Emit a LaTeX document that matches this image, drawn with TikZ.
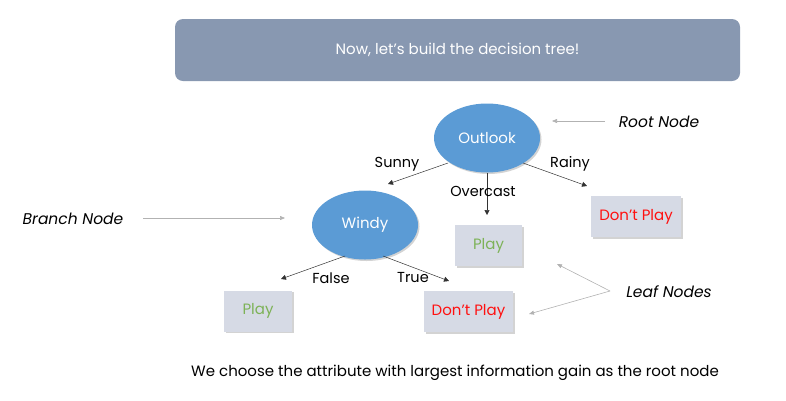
\documentclass[tikz,border=0pt]{standalone}
\usepackage{fontspec}
\setmainfont{Poppins}
\usetikzlibrary{shapes.geometric,shadows,arrows.meta}
\definecolor{banner}{HTML}{8898B1}
\definecolor{ell}{HTML}{5B9BD5}
\definecolor{boxfill}{HTML}{D6DAE5}
\definecolor{playgreen}{HTML}{7DB257}
\definecolor{dpred}{HTML}{FF1010}
\tikzset{
  ellnode/.style={ellipse, fill=ell, text=white, minimum width=106pt, minimum height=69pt, inner sep=0pt, font=\fontsize{15}{17}\selectfont,
    drop shadow={opacity=0.35, shadow xshift=1.5pt, shadow yshift=-1.5pt}},
  leaf/.style={rectangle, fill=boxfill, minimum height=41pt, inner sep=0pt, font=\fontsize{15}{17}\selectfont,
    drop shadow={opacity=0.35, shadow xshift=1.5pt, shadow yshift=-1.5pt}},
  edge/.style={draw=black!80, line width=0.5pt, -{Triangle[length=5pt,width=5pt]}},
  note/.style={draw=black!30, line width=0.6pt, -{Triangle[length=5pt,width=4pt]}},
  elabel/.style={font=\fontsize{14.5}{16}\selectfont, text=black},
  notelabel/.style={font=\fontsize{15.5}{17}\selectfont\itshape, text=black},
}
\begin{document}
\begin{tikzpicture}[x=1pt,y=-1pt]
\useasboundingbox (0,0) rectangle (786,400);
\node[fill=banner, rounded corners=8pt, minimum width=565pt, minimum height=62pt, text=white, font=\fontsize{15}{17}\selectfont] (banner) at (457.5,50) {Now, let's build the decision tree!};

\node[ellnode] (outlook) at (487,138) {Outlook};
\node[ellnode] (windy) at (365,225) {Windy};
\node[leaf, minimum width=67pt, text=playgreen] (play1) at (488.5,245.5) {Play};
\node[leaf, minimum width=90pt, text=dpred] (dp1) at (636,216.5) {Don't Play};
\node[leaf, minimum width=68pt, text=playgreen] (play2) at (258,311) {Play};
\node[leaf, minimum width=89pt, text=dpred] (dp2) at (468.5,311.5) {Don't Play};

\coordinate (s1) at (448,163); \coordinate (s2) at (388,184);
\coordinate (o1) at (487,173); \coordinate (o2) at (487,215);
\coordinate (r1) at (523,163); \coordinate (r2) at (587,186);
\coordinate (f1) at (345,256); \coordinate (f2) at (281,279);
\coordinate (t1) at (383,256); \coordinate (t2) at (449,281);
\draw[edge] (s1) -- (s2);
\draw[edge] (o1) -- (o2);
\draw[edge] (r1) -- (r2);
\draw[edge] (f1) -- (f2);
\draw[edge] (t1) -- (t2);

\node[elabel] (lsunny) at (397,164) {Sunny};
\node[elabel] (lover) at (483,191) {Overcast};
\node[elabel] (lrainy) at (570,164) {Rainy};
\node[elabel] (lfalse) at (331,278) {False};
\node[elabel] (ltrue) at (413,278) {True};

\node[notelabel] (root) at (659,122) {Root Node};
\node[notelabel] (branch) at (73,219) {Branch Node};
\node[notelabel] (leafn) at (669,292) {Leaf Nodes};
\coordinate (rs) at (605,121); \coordinate (rt) at (552,121);
\coordinate (bs) at (143,218); \coordinate (bt) at (285,218);
\coordinate (ls) at (610,291);
\coordinate (lt1) at (557,264);
\coordinate (lt2) at (529,314);
\draw[note] (rs) -- (rt);
\draw[note] (bs) -- (bt);
\draw[note] (ls) -- (lt1);
\draw[note] (ls) -- (lt2);

\node[font=\fontsize{15}{17}\selectfont] (caption) at (455,373) {We choose the attribute with largest information gain as the root node};
\end{tikzpicture}
\end{document}
